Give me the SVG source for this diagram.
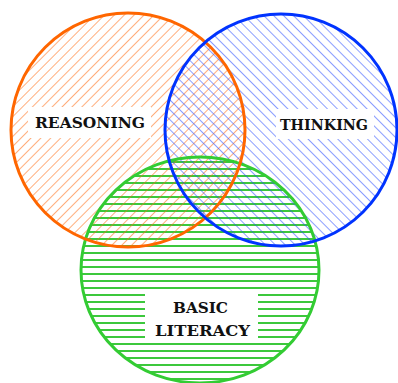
<svg xmlns="http://www.w3.org/2000/svg" width="398" height="383" viewBox="0 0 398 383">
<style>
.lbl{font-family:"DejaVu Serif","Liberation Serif",serif;font-size:14px;font-weight:bold;fill:#111;}
.box{fill:#fff;}
</style>
<defs>
<pattern id="hOrange" patternUnits="userSpaceOnUse" width="7" height="7" patternTransform="rotate(45)">
<line x1="0" y1="0" x2="0" y2="7" stroke="#FF6A10" stroke-width="1.1"/>
</pattern>
<pattern id="hBlue" patternUnits="userSpaceOnUse" width="7" height="7" patternTransform="rotate(-45)">
<line x1="0" y1="0" x2="0" y2="7" stroke="#2A4DFF" stroke-width="1.1"/>
</pattern>
<pattern id="hGreen" patternUnits="userSpaceOnUse" width="10" height="7">
<line x1="0" y1="1" x2="10" y2="1" stroke="#3CC83C" stroke-width="2"/>
</pattern>
</defs>
<rect width="398" height="383" fill="#fff"/>
<g id="basic-literacy">
<ellipse cx="200" cy="270" rx="119" ry="113" fill="url(#hGreen)"/>
</g>
<g id="reasoning">
<circle cx="128" cy="130" r="117" fill="url(#hOrange)"/>
</g>
<g id="thinking">
<circle cx="281" cy="130" r="116" fill="url(#hBlue)"/>
</g>
<g id="outlines" fill="none" stroke-width="3">
<ellipse cx="200" cy="270" rx="119" ry="113" stroke="#33CC33"/>
<circle cx="128" cy="130" r="117" stroke="#FF6600"/>
<circle cx="281" cy="130" r="116" stroke="#0033FF"/>
</g>
<g id="labels">
<rect class="box" x="28" y="107" width="123" height="31"/>
<text class="lbl" x="35" y="128" textLength="110" lengthAdjust="spacingAndGlyphs">REASONING</text>
<rect class="box" x="276" y="109" width="98" height="30"/>
<text class="lbl" x="280" y="130" textLength="88" lengthAdjust="spacingAndGlyphs">THINKING</text>
<rect class="box" x="145" y="290" width="113" height="52"/>
<text class="lbl" x="173" y="313" textLength="55" lengthAdjust="spacingAndGlyphs">BASIC</text>
<text class="lbl" x="155" y="336" textLength="95" lengthAdjust="spacingAndGlyphs">LITERACY</text>
</g>
</svg>
